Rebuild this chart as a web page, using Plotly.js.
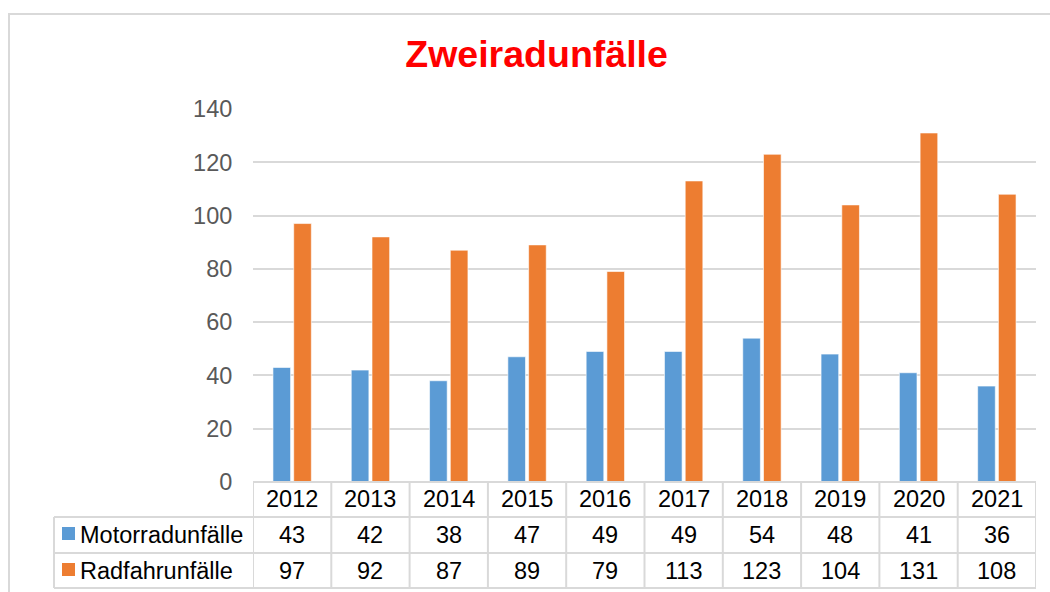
<!DOCTYPE html>
<html>
<head>
<meta charset="utf-8">
<script src="https://cdn.plot.ly/plotly-3.0.1.min.js"></script>
<style>html,body{margin:0;padding:0;background:#fff;}</style>
</head>
<body>
<div id="chart" style="width:1050px;height:592px;"></div>
<script>
const years = ["2012","2013","2014","2015","2016","2017","2018","2019","2020","2021"];
const motorrad = [43, 42, 38, 47, 49, 49, 54, 48, 41, 36];
const radfahr = [97, 92, 87, 89, 79, 113, 123, 104, 131, 108];
const seriesNames = ["Motorradunfälle", "Radfahrunfälle"];
const seriesColors = ["#5B9BD5", "#ED7D31"];
const titleText = "Zweiradunfälle";

const W = 1050, H = 592;
const L = 253, R = 1036, T = 109, B = 482;
const px = p => (p - L) / (R - L);
const py = p => (B - p) / (B - T);
const FONT = "Arial, 'Liberation Sans', sans-serif";
const GRID = "#d9d9d9";

const traces = [motorrad, radfahr].map((vals, i) => ({
  type: "bar",
  name: seriesNames[i],
  x: years,
  y: vals,
  marker: { color: seriesColors[i], line: { color: "rgba(255,255,255,0.6)", width: 1 } },
  hoverinfo: "x+y+name"
}));

// table geometry (pixel rows)
const rowTop = 482, row1 = 517, row2 = 553, rowBot = 588, leftEdge = 54;
const shapes = [];
const lineStyle = { color: GRID, width: 2 };
// outer chart border
shapes.push({ type: "rect", xref: "paper", yref: "paper", x0: px(9), x1: px(1070), y0: py(14), y1: py(620), line: { color: GRID, width: 2 }, fillcolor: "rgba(0,0,0,0)" });
// horizontal table lines
shapes.push({ type: "line", xref: "paper", yref: "paper", x0: px(L), x1: px(R), y0: py(rowTop), y1: py(rowTop), line: lineStyle });
[row1, row2, rowBot].forEach(r => shapes.push({ type: "line", xref: "paper", yref: "paper", x0: px(leftEdge), x1: px(R), y0: py(r), y1: py(r), line: lineStyle }));
// left vertical
shapes.push({ type: "line", xref: "paper", yref: "paper", x0: px(leftEdge), x1: px(leftEdge), y0: py(row1), y1: py(rowBot), line: lineStyle });
// category separators
for (let i = 0; i <= years.length; i++) {
  shapes.push({ type: "line", xref: "x", yref: "paper", x0: i - 0.5, x1: i - 0.5, y0: py(rowTop), y1: py(rowBot), line: lineStyle });
}
// legend keys
[[527, 540], [563, 576]].forEach((yy, i) => shapes.push({
  type: "rect", xref: "paper", yref: "paper", x0: px(62), x1: px(75), y0: py(yy[1]), y1: py(yy[0]),
  fillcolor: seriesColors[i], line: { width: 0 }
}));

const annotations = [];
const tfont = { family: FONT, size: 23.5, color: "#000000" };
years.forEach((yr, i) => {
  annotations.push({ xref: "x", yref: "paper", x: i, y: py(499), text: yr, showarrow: false, font: tfont, xanchor: "center", yanchor: "middle" });
  annotations.push({ xref: "x", yref: "paper", x: i, y: py(535), text: String(motorrad[i]), showarrow: false, font: tfont, xanchor: "center", yanchor: "middle" });
  annotations.push({ xref: "x", yref: "paper", x: i, y: py(571), text: String(radfahr[i]), showarrow: false, font: tfont, xanchor: "center", yanchor: "middle" });
});
[535, 571].forEach((r, i) => annotations.push({
  xref: "paper", yref: "paper", x: px(78), y: py(r), text: seriesNames[i], showarrow: false,
  font: tfont, xanchor: "left", yanchor: "middle"
}));

const layout = {
  width: W, height: H,
  margin: { l: L, r: W - R, t: T, b: H - B, pad: 0 },
  paper_bgcolor: "#ffffff", plot_bgcolor: "#ffffff",
  font: { family: FONT },
  title: { text: "<b>" + titleText + "</b>", font: { family: FONT, size: 37.5, color: "#FF0000" }, xref: "container", yref: "container", x: 0.511, y: 1 - 54 / H, xanchor: "center", yanchor: "middle" },
  showlegend: false,
  barmode: "group",
  bargap: 0.47,
  bargroupgap: 0.15,
  xaxis: { type: "category", showticklabels: false, showgrid: false, zeroline: false, showline: false, ticks: "", range: [-0.5, 9.5], fixedrange: true },
  yaxis: { range: [0, 140], dtick: 20, showgrid: true, gridcolor: GRID, gridwidth: 2, zeroline: false, showline: false,
    ticks: "outside", ticklen: 15, tickcolor: "rgba(0,0,0,0)", tickfont: { family: FONT, size: 23.5, color: "#595959" }, fixedrange: true },
  shapes: shapes,
  annotations: annotations
};

Plotly.newPlot("chart", traces, layout, { displayModeBar: false, staticPlot: true });
</script>
</body>
</html>
